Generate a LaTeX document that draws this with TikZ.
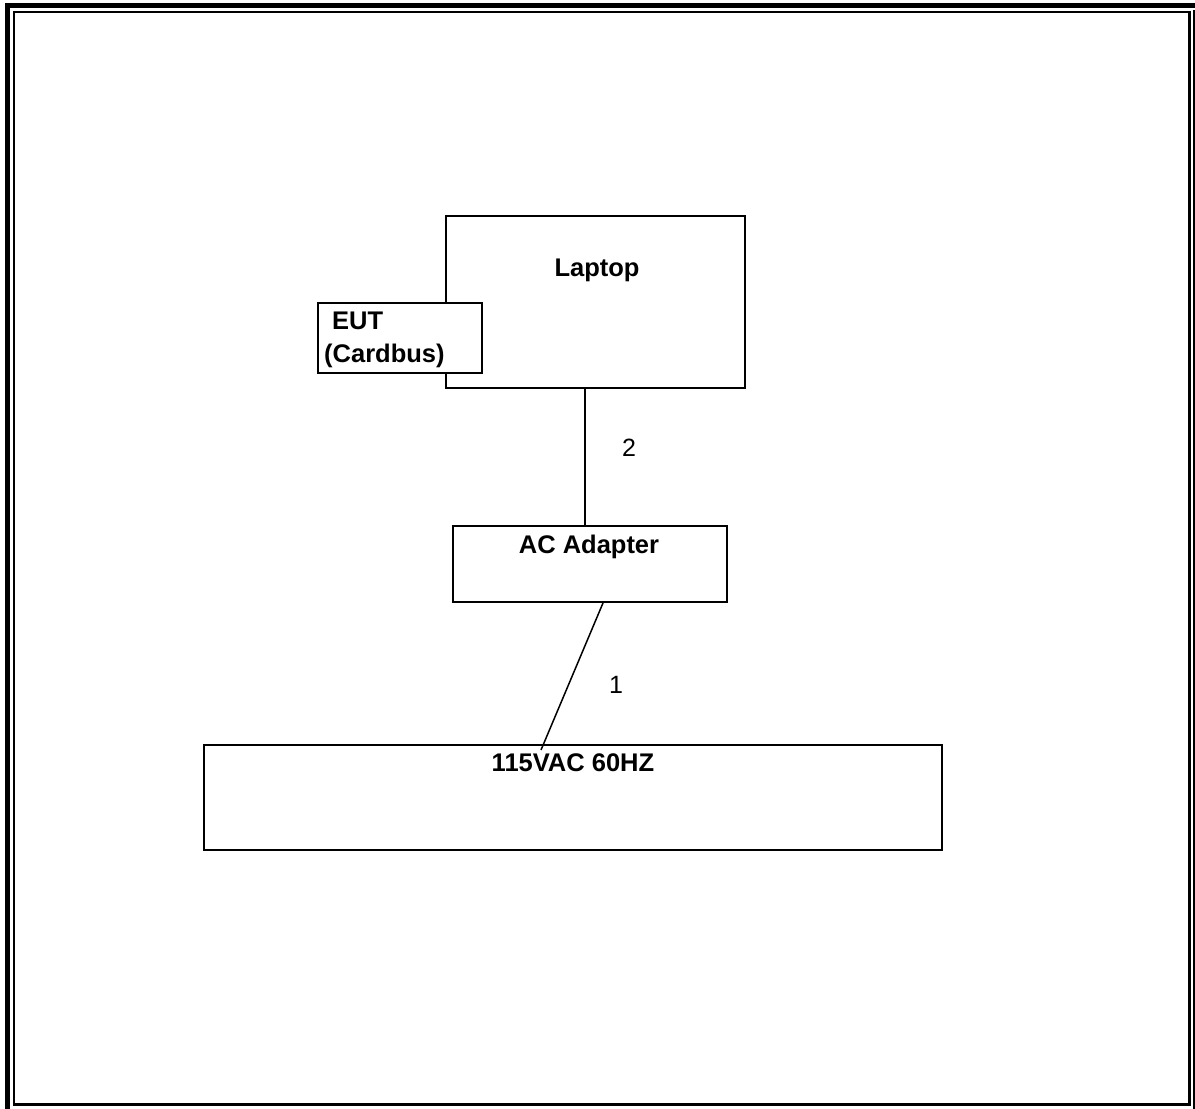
\documentclass[tikz,border=0pt]{standalone}
\usepackage{fontspec}
\setmainfont{Liberation Sans}
\begin{document}
\begin{tikzpicture}[x=1pt,y=-1pt,
  box/.style={draw=black,line width=2pt,fill=white,inner sep=0pt},
  lbl/.style={font=\fontsize{25.5}{33}\selectfont\bfseries,inner sep=0pt,anchor=base},
  num/.style={font=\fontsize{25}{30}\selectfont,inner sep=0pt},
  wire/.style={draw=black,line width=1.5pt}]
\useasboundingbox (0,0) rectangle (1195,1109);
% page border
\fill (5,3) rectangle (10,1109);
\fill (5,3) rectangle (1195,8);
\fill (1193,10) rectangle (1194.5,1109);
\fill (13,11) rectangle (15,1106);
\fill (13,11) rectangle (1191,13);
\fill (1188,11) rectangle (1191,1106);
\fill (13,1103) rectangle (1191,1106);
% boxes
\node[box,minimum width=299pt,minimum height=172pt] (laptop) at (595.5,302) {};
\node[lbl] (laptoptxt) at (597,276) {Laptop};
\node[box,minimum width=164pt,minimum height=70pt] (eut) at (400,338) {};
\node[lbl,anchor=base west] (euttxt) at (332,329) {EUT};
\node[lbl,anchor=base west] (cardtxt) at (324,362) {(Cardbus)};
\node[box,minimum width=274pt,minimum height=76pt] (ac) at (590,564) {};
\node[lbl] (actxt) at (589,553) {AC Adapter};
\node[box,minimum width=738pt,minimum height=105pt] (mains) at (573,797.5) {};
% connectors
\coordinate (c1a) at (603,603);
\coordinate (c1b) at (541,750);
\draw[wire] (laptop.south -| 585,0) -- (ac.north -| 585,0);
\draw[wire] (c1a) -- (c1b);
\node[lbl] (mainstxt) at (573,771) {115VAC 60HZ};
\node[num] (n2) at (629,448) {2};
\node[num] (n1) at (616,685) {1};
\end{tikzpicture}
\end{document}
